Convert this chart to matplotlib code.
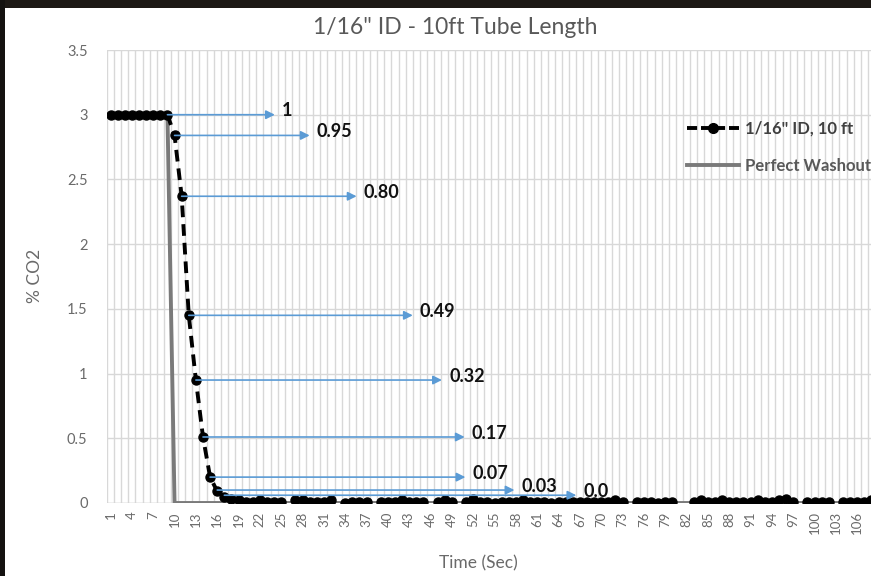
import numpy as np
import matplotlib
matplotlib.use("Agg")
import matplotlib.pyplot as plt
from matplotlib.lines import Line2D
from matplotlib.patches import Rectangle

plt.rcParams['font.family'] = ['Lato', 'DejaVu Sans']

# ---------------- data ----------------
categories = list(range(1, 109))  # Time (Sec)
nan = np.nan
tube_16_10ft = [3.0] * 9 + [2.84, 2.37, 1.45, 0.95, 0.51, 0.20, 0.09, 0.05, 0.03] + [
    0.02, 0.01, 0.01, 0.02, 0.01, 0.01, 0.01, nan, 0.02, 0.02,   # 19-28
    0.01, 0.01, 0.01, 0.02, nan, 0.00, 0.01, 0.01, 0.01, nan,    # 29-38
    0.01, 0.01, 0.01, 0.02, 0.01, 0.01, 0.01, nan, 0.01, 0.02,   # 39-48
    0.01, nan, 0.01, 0.03, 0.01, 0.01, 0.00, 0.01, 0.01, 0.01,   # 49-58
    0.02, 0.01, 0.01, 0.01, 0.00, 0.01, 0.01, 0.01, 0.01, 0.01,  # 59-68
    0.01, 0.01, 0.01, 0.02, 0.01, nan, 0.01, 0.01, 0.01, 0.00,   # 69-78
    0.01, 0.01, nan, nan, 0.01, 0.02, 0.01, 0.01, 0.02, 0.01,    # 79-88
    0.01, 0.01, 0.01, 0.02, 0.01, 0.01, 0.02, 0.03, 0.01, nan,   # 89-98
    0.01, 0.01, 0.01, 0.01, nan, 0.01, 0.01, 0.01, 0.01, 0.02,   # 99-108
]
perfect_washout = [3.0] * 9 + [0.0] * 99
assert len(tube_16_10ft) == len(categories) == len(perfect_washout)

tick_labels = [str(c) for c in categories if (c - 1) % 3 == 0]
tick_positions = [c for c in categories if (c - 1) % 3 == 0]

# normalized annotations: label, start category (data point), arrow tip category
arrow_labels = ["1", "0.95", "0.80", "0.49", "0.32", "0.17", "0.07", "0.03", "0.0"]
arrow_start_cat = [9, 10, 11, 12, 13, 14, 15, 16, 17]
arrow_tip_cat = [24.1, 29.0, 35.6, 43.5, 47.6, 50.8, 50.9, 57.8, 66.5]
arrow_y = [3.0, 2.84, 2.37, 1.45, 0.95, 0.51, 0.20, 0.10, 0.06]

series_name = '1/16" ID, 10 ft'
perfect_name = 'Perfect Washout'

# ---------------- figure ----------------
W, H = 871, 576
fig = plt.figure(figsize=(W / 100, H / 100), dpi=100)
fig.patch.set_facecolor('white')

# dark photo border (top and left)
fig.patches.append(Rectangle((0, 1 - 8 / H), 1, 8 / H, transform=fig.transFigure,
                             facecolor='#1d1915', edgecolor='none', zorder=0))
fig.patches.append(Rectangle((0, 0), 5 / W, 1, transform=fig.transFigure,
                             facecolor='#141210', edgecolor='none', zorder=0))

left, right, top, bottom = 107, 875, 50, 503
ax = fig.add_axes([left / W, 1 - bottom / H, (right - left) / W, (bottom - top) / H])
ax.set_facecolor('white')

ax.set_xlim(0.5, len(categories) + 0.5)
ax.set_ylim(0, 3.5)

ax.set_yticks(np.arange(0, 3.51, 0.5))
ax.set_yticklabels(['0', '0.5', '1', '1.5', '2', '2.5', '3', '3.5'])
ax.set_xticks(tick_positions)
ax.set_xticklabels(tick_labels, rotation=90)
ax.set_xticks(np.arange(0.5, len(categories) + 1, 1.0), minor=True)

ax.tick_params(axis='both', which='both', length=0)
ax.tick_params(axis='y', labelsize=10.5, labelcolor='#6a6a6a', pad=14)
ax.tick_params(axis='x', labelsize=9.5, labelcolor='#6a6a6a', pad=6)

ax.grid(axis='y', which='major', color='#d8d8d8', lw=1.0)
ax.grid(axis='x', which='minor', color='#d8d8d8', lw=1.0)
ax.set_axisbelow(True)
for s in ax.spines.values():
    s.set_visible(False)
ax.axhline(0, color='#d0d0d0', lw=1, zorder=1)

ax.plot(categories, perfect_washout, color='#7a7a7a', lw=2.8, zorder=3,
        solid_joinstyle='miter')
ax.plot(categories, tube_16_10ft, color='black', lw=2.8, dashes=(3.0, 1.8),
        marker='o', markersize=6.5, zorder=4)

for lab, xs, xt, y in zip(arrow_labels, arrow_start_cat, arrow_tip_cat, arrow_y):
    ax.annotate('', xy=(xt, y), xytext=(xs, y),
                arrowprops=dict(arrowstyle='-|>', color='#5b9bd5', lw=1.2,
                                mutation_scale=13, shrinkA=0, shrinkB=0),
                zorder=5)
    ax.text(xt + 1.0, y + 0.03, lab, ha='left', va='center', fontsize=13,
            fontweight='bold', color='#111111', zorder=6)

# legend
handles = [Line2D([], [], color='black', lw=2.8, dashes=(2.6, 1.0), marker='o', markersize=7),
           Line2D([], [], color='#7a7a7a', lw=2.8)]
leg = ax.legend(handles, [series_name, perfect_name], loc='upper left',
                bbox_to_anchor=(687 / W, 1 - 121 / H), bbox_transform=fig.transFigure,
                frameon=False, handlelength=3.1, handletextpad=0.35, labelspacing=1.25,
                prop={'weight': 'bold', 'size': 12}, borderaxespad=0, borderpad=0)
for t, c in zip(leg.get_texts(), ['#404040', '#595959']):
    t.set_color(c)

fig.text(455 / W, 1 - 27 / H, '1/16" ID - 10ft Tube Length', ha='center', va='center',
         fontsize=16.5, color='#595959')
fig.text(478 / W, 1 - 563 / H, 'Time (Sec)', ha='center', va='center',
         fontsize=12.5, color='#6a6a6a')
fig.text(35 / W, 1 - 276 / H, '% CO2', ha='center', va='center', rotation=90,
         fontsize=12.5, color='#6a6a6a')

fig.savefig('out.png', dpi=100)
